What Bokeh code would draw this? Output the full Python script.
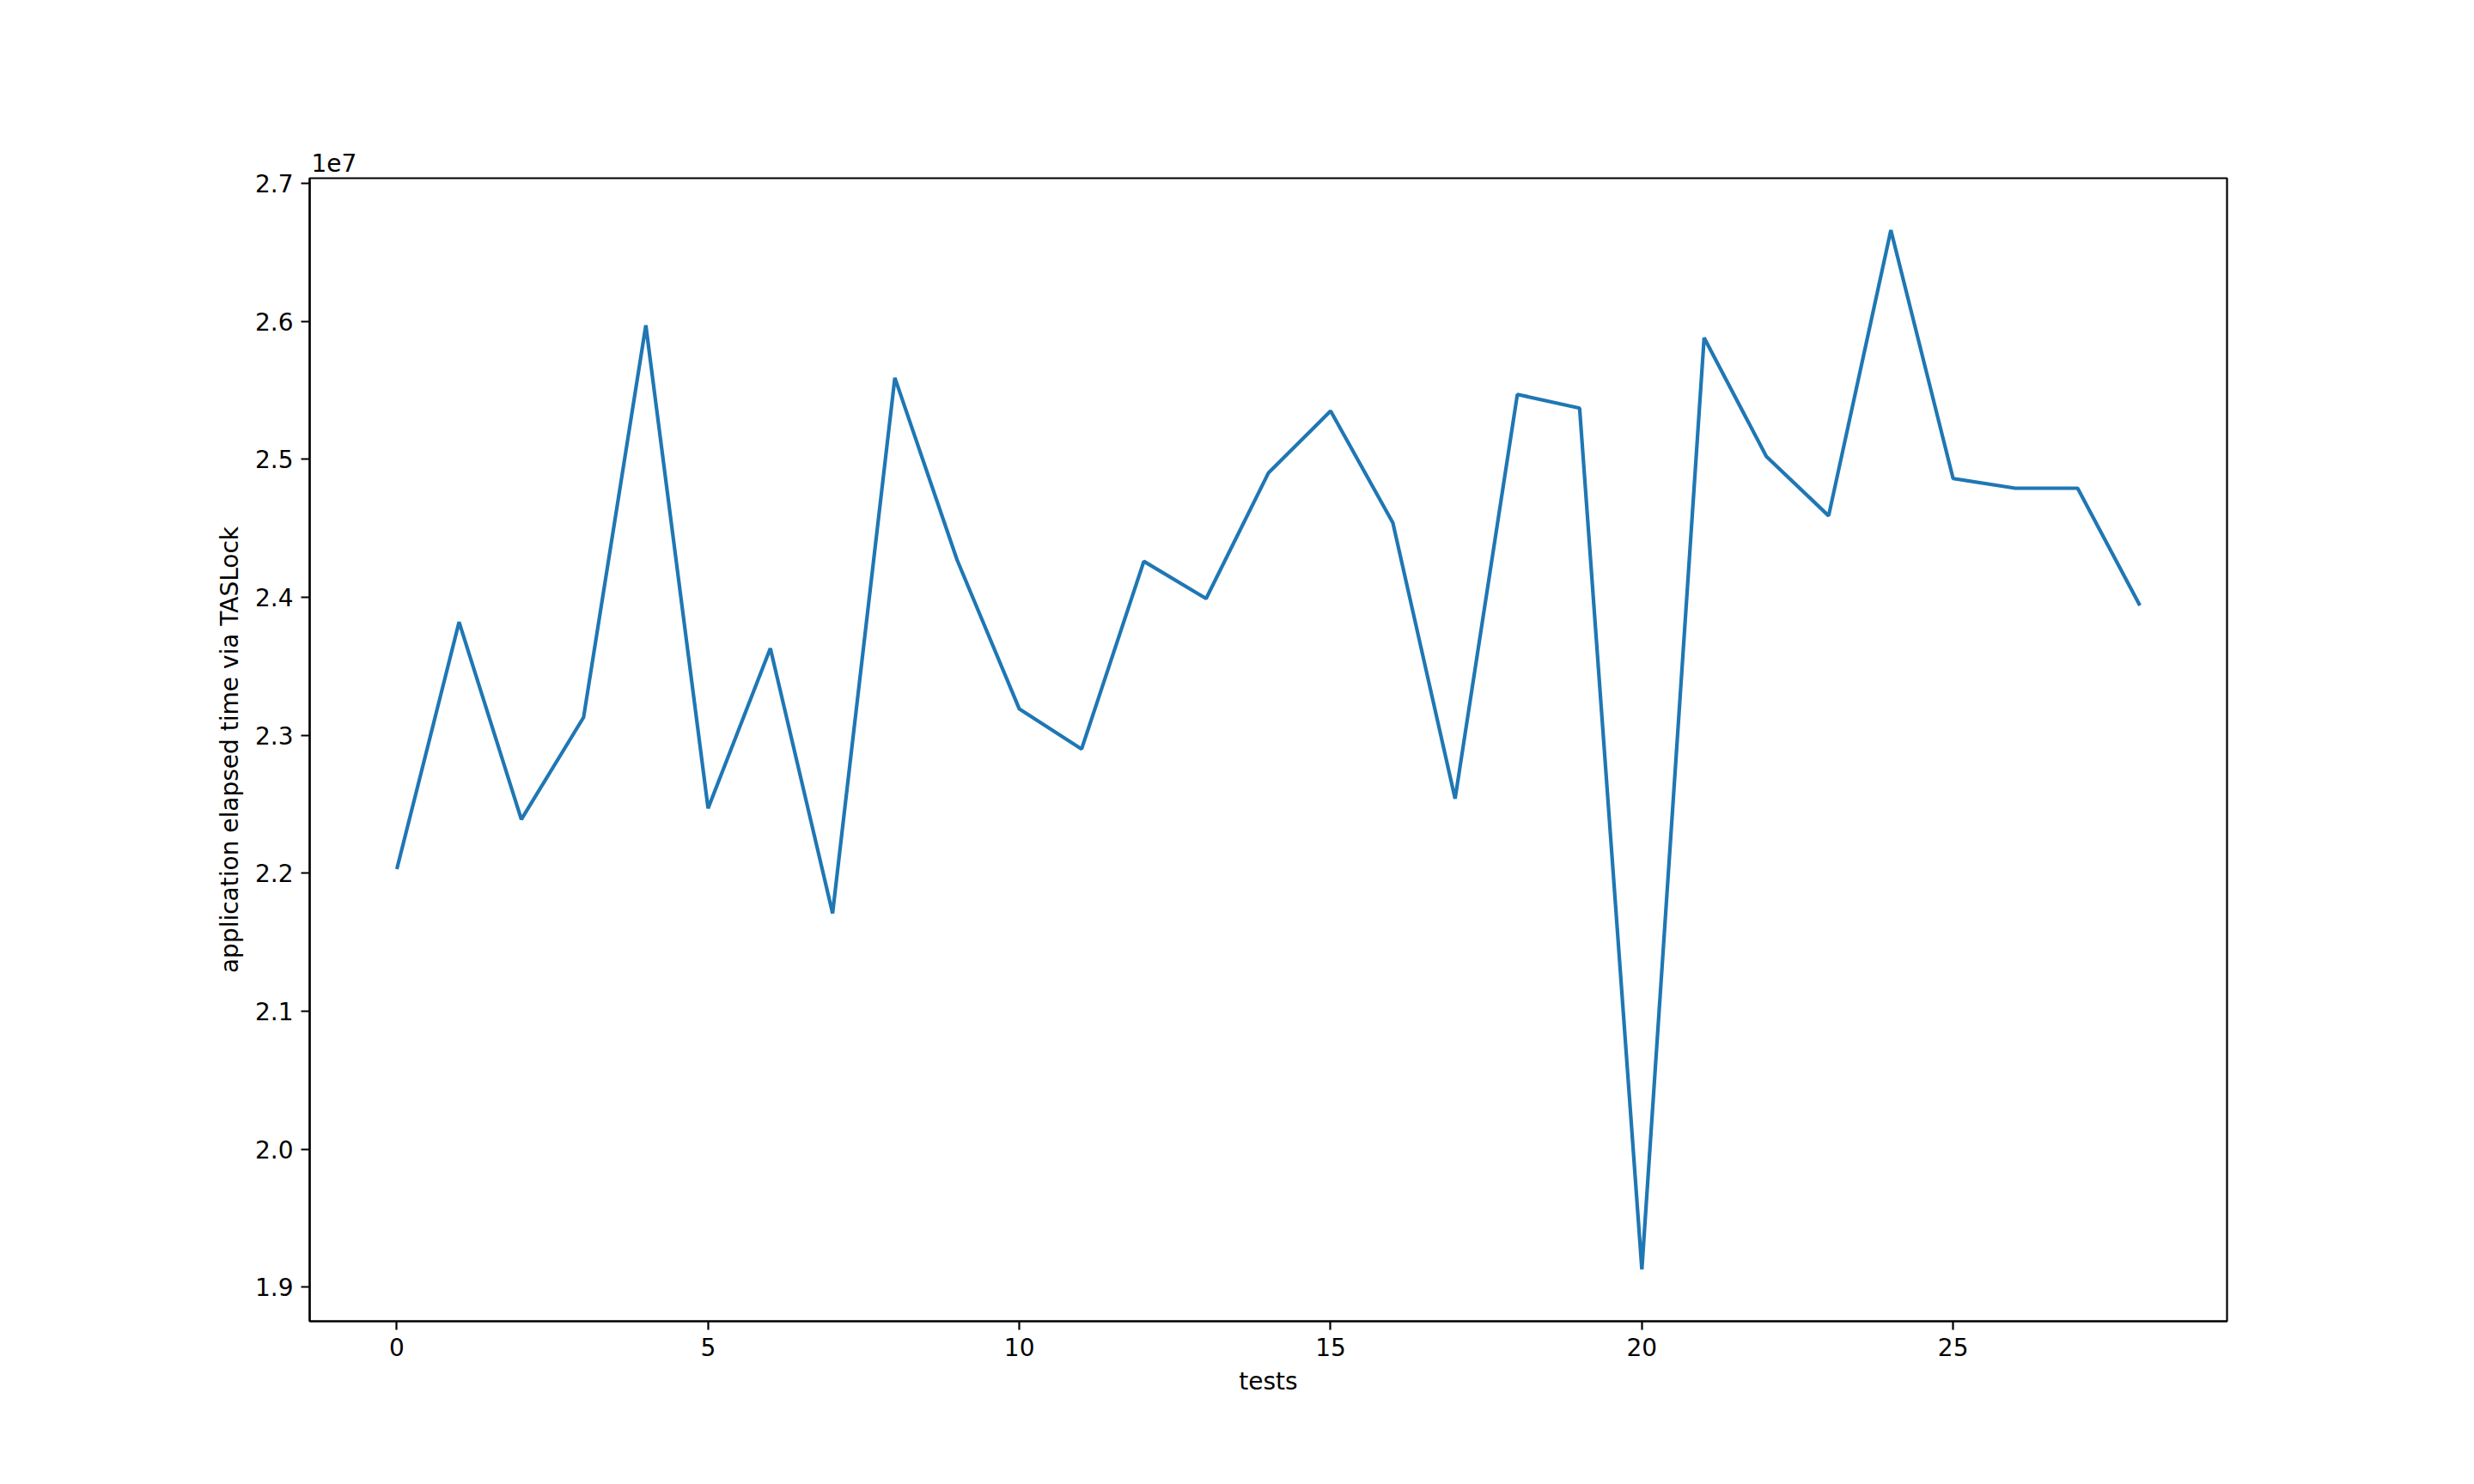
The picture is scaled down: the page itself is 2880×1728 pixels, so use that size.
from bokeh.plotting import figure
from bokeh.models import Range1d, FixedTicker, CustomJSTickFormatter, Title
from bokeh.embed import file_html
from bokeh.resources import INLINE

tests = list(range(29))
elapsed = [22030000, 23820000, 22390000, 23130000, 25970000, 22470000, 23630000,
           21710000, 25590000, 24270000, 23190000, 22900000, 24260000, 23990000,
           24900000, 25350000, 24540000, 22540000, 25470000, 25370000, 19130000,
           25880000, 25020000, 24590000, 26660000, 24860000, 24790000, 24790000,
           23940000]
x_ticks = [0, 5, 10, 15, 20, 25]
y_ticks = [19000000, 20000000, 21000000, 22000000, 23000000, 24000000,
           25000000, 26000000, 27000000]

FONT = "DejaVu Sans"
FS = "28px"

xmin, xmax = min(tests), max(tests)
xm = (xmax - xmin) * 0.05
ymin, ymax = min(elapsed), max(elapsed)
ym = (ymax - ymin) * 0.05

p = figure(width=2864, height=1712, output_backend="svg", toolbar_location=None,
           x_range=Range1d(xmin - xm, xmax + xm), y_range=Range1d(ymin - ym, ymax + ym),
           min_border_left=360, min_border_right=272, min_border_top=207,
           min_border_bottom=174)
p.background_fill_color = "white"
p.border_fill_color = "white"
p.outline_line_color = "black"
p.outline_line_width = 2.2
p.xgrid.visible = False
p.ygrid.visible = False

p.line(tests, elapsed, line_color="#1f77b4", line_width=4.2)

for ax in (p.xaxis[0], p.yaxis[0]):
    ax.axis_line_color = "black"
    ax.axis_line_width = 2.2
    ax.major_tick_line_color = "black"
    ax.major_tick_line_width = 2.2
    ax.major_tick_out = 10
    ax.major_tick_in = 0
    ax.minor_tick_line_color = None
    ax.major_label_text_font = FONT
    ax.major_label_text_font_size = FS
    ax.major_label_text_color = "black"
    ax.axis_label_text_font = FONT
    ax.axis_label_text_font_size = FS
    ax.axis_label_text_font_style = "normal"
    ax.axis_label_text_color = "black"
    ax.major_label_standoff = 9

p.xaxis.ticker = FixedTicker(ticks=x_ticks)
p.yaxis.ticker = FixedTicker(ticks=y_ticks)
p.yaxis.formatter = CustomJSTickFormatter(code="return (tick/1e7).toFixed(1);")
p.xaxis.axis_label = "tests"
p.yaxis.axis_label = "application elapsed time via TASLock"
p.xaxis.axis_label_standoff = 10
p.yaxis.axis_label_standoff = 10

p.add_layout(Title(text="1e7", align="left", text_font=FONT, text_font_size=FS,
                   text_font_style="normal", text_color="black", standoff=15,
                   offset=2), "above")

open("out.html", "w").write(file_html(p, INLINE))
